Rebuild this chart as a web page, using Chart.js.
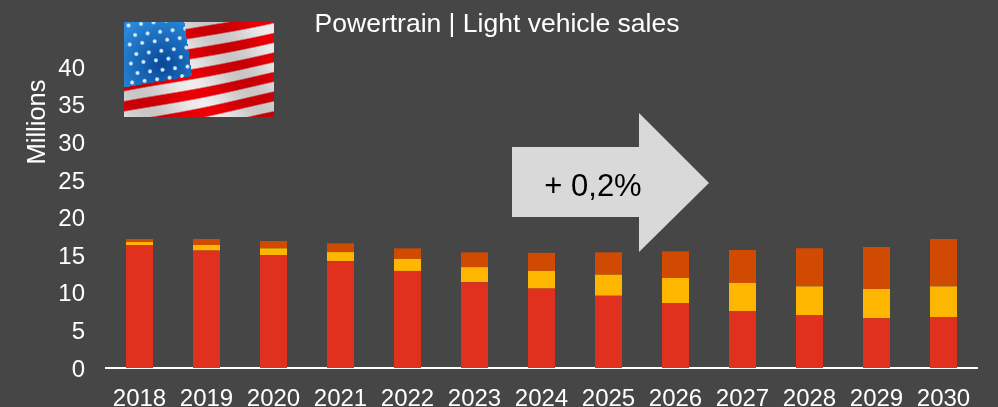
<!DOCTYPE html>
<html><head><meta charset="utf-8">
<style>html,body{margin:0;padding:0;background:#464646;overflow:hidden}#w{width:998px;height:407px;position:relative}</style>
<script src="https://cdn.jsdelivr.net/npm/chart.js@4"></script>
</head><body><div id="w"><canvas id="c" width="998" height="407"></canvas></div>
<script>
const years=["2018","2019","2020","2021","2022","2023","2024","2025","2026","2027","2028","2029","2030"];
const seriesRed=[16.3,15.6,15.0,14.2,12.9,11.4,10.55,9.6,8.64,7.57,7.0,6.6,6.78];
const seriesYellow=[0.44,0.75,0.9,1.2,1.6,2.0,2.35,2.8,3.32,3.73,3.85,3.9,4.07];
const seriesOrange=[0.4,0.79,0.98,1.17,1.4,1.97,2.4,2.97,3.54,4.38,5.05,5.58,6.29];
const titleText="Powertrain | Light vehicle sales";
const axisTitle="Millions";
const growthLabel="+ 0,2%";
const FONT='"Liberation Sans", Arial, sans-serif';

function flagCanvas(){
  const W=150,H=95,cv=document.createElement('canvas');cv.width=W;cv.height=H;
  const g=cv.getContext('2d'),im=g.createImageData(W,H);
  const mix=(a,b,t)=>a.map((v,i)=>v+(b[i]-v)*t);
  const stars=[];
  for(let r=0;r<8;r++)for(let k=0;k<6;k++){
    stars.push([4+k*12.5+(r%2?6:0)+r*0.6, 3+r*9.5-k*1.6]);
  }
  for(let y=0;y<H;y++)for(let x=0;x<W;x++){
    const wave=2.2*Math.sin(x/28+y/40);
    const s=y+0.2*(x-150)+wave*0.5;
    const ph=(((s-14.7)/20)%1+1)%1;
    const d=Math.min(ph,1-ph)*2;
    const t=Math.min(1,Math.max(0,(d-0.42)/0.16));
    let col=mix([235,0,6],[238,236,236],t);
    const edgeX=60+y*0.14;
    const edgeY=65-x*0.17;
    if(x<edgeX&&y<edgeY){
      const dc=Math.hypot(x-38,y-42)/48;
      col=mix([10,70,150],[40,135,215],Math.min(1,dc));
      for(const st of stars){
        const dd=Math.hypot(x-st[0],y-st[1]);
        if(dd<2.6)col=mix(col,[205,235,252],Math.min(1,(2.6-dd)/1.4));
      }
    }else{
      const sh=0.92+0.08*Math.sin(x/18-y/30);
      col=col.map(v=>v*sh);
    }
    const i=(y*W+x)*4;im.data[i]=col[0];im.data[i+1]=col[1];im.data[i+2]=col[2];im.data[i+3]=255;
  }
  g.putImageData(im,0,0);return cv;
}
const flag=flagCanvas();

const decor={
  id:'decor',
  afterDraw(chart){
    const c=chart.ctx;c.save();
    c.drawImage(flag,124,22,150,95);
    c.textAlign='center';c.textBaseline='middle';
    c.fillStyle='#fff';c.font='26.5px '+FONT;
    c.fillText(titleText,497,24.5);
    c.fillStyle='#d9d9d9';
    c.beginPath();c.moveTo(512,147);c.lineTo(639,147);c.lineTo(639,113);c.lineTo(709,183);c.lineTo(639,252);c.lineTo(639,217);c.lineTo(512,217);c.closePath();c.fill();
    c.fillStyle='#000';c.font='31px '+FONT;
    c.fillText(growthLabel,593,187);
    c.fillStyle='#fff';c.translate(38,122);c.rotate(-Math.PI/2);c.font='25.5px '+FONT;
    c.fillText(axisTitle,0,0);
    c.restore();
  }
};
new Chart(document.getElementById('c'),{
  type:'bar',
  data:{labels:years,datasets:[
    {label:'Red',data:seriesRed,backgroundColor:'#E0301E'},
    {label:'Yellow',data:seriesYellow,backgroundColor:'#FFB600'},
    {label:'Orange',data:seriesOrange,backgroundColor:'#D04A02'}
  ]},
  plugins:[decor],
  options:{
    responsive:false,animation:false,
    layout:{padding:{top:67,right:21,bottom:0,left:0}},
    datasets:{bar:{categoryPercentage:1,barPercentage:0.403}},
    plugins:{legend:{display:false},tooltip:{enabled:false},title:{display:false}},
    scales:{
      x:{stacked:true,grid:{display:false,drawTicks:false},border:{color:'#fff',width:2},
         afterFit(s){s.height=39},
         ticks:{color:'#fff',font:{family:FONT,size:24},padding:17,maxRotation:0,autoSkip:false}},
      y:{stacked:true,min:0,max:40,grid:{display:false,drawTicks:false},border:{display:false},
         afterFit(s){s.width=106},
         ticks:{color:'#fff',font:{family:FONT,size:24},stepSize:5,padding:21,labelOffset:2}}
    }
  }
});
</script></body></html>
